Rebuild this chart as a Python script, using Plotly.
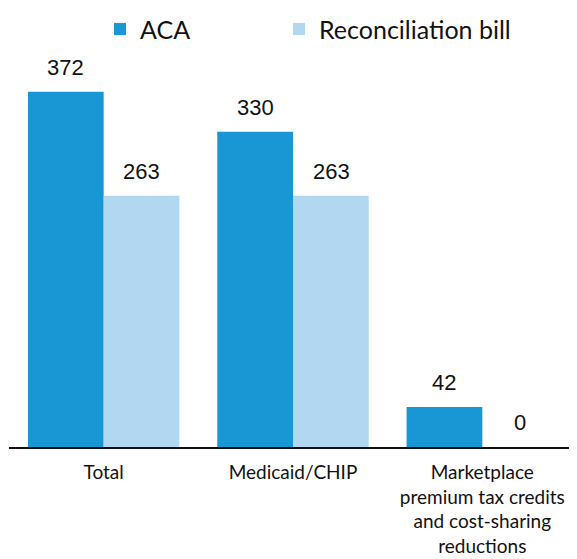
import plotly.graph_objects as go

categories = ["Total", "Medicaid/CHIP", "Marketplace<br>premium tax credits<br>and cost-sharing<br>reductions"]
aca_values = [372, 330, 42]
recon_values = [263, 263, 0]

fig = go.Figure()
fig.add_trace(go.Bar(
    name="ACA", x=categories, y=aca_values, legend="legend",
    marker=dict(color="#1996d4", line=dict(width=0)),
))
fig.add_trace(go.Bar(
    name="Reconciliation bill", x=categories, y=recon_values, legend="legend2",
    marker=dict(color="#b1d7f1", line=dict(width=0)),
))
for vals, shift in ((aca_values, -38), (recon_values, 38)):
    for c, v in zip(categories, vals):
        fig.add_annotation(x=c, y=v, text=str(v), showarrow=False, xshift=shift,
                           yanchor="bottom", yshift=10,
                           font=dict(family="Liberation Sans, Arial", size=22, color="#111"))

legend_common = dict(orientation="h", xanchor="left", y=1.154, yanchor="top",
                     yref="paper",
                     font=dict(size=25, family="Lato", color="#111"))
fig.update_layout(
    width=577, height=559,
    margin=dict(l=1, r=8, t=57, b=120, autoexpand=False),
    barmode="group", bargap=0.2, bargroupgap=0,
    plot_bgcolor="white", paper_bgcolor="white",
    font=dict(family="Lato", color="#111"),
    legend=dict(x=(92 - 1) / 568, **legend_common),
    legend2=dict(x=(271 - 1) / 568, **legend_common),
    showlegend=True,
    xaxis=dict(showline=True, linecolor="#111", linewidth=2, ticks="", automargin=False,
               ticklabelstandoff=7,
               tickfont=dict(size=19, family="Lato", color="#111")),
    yaxis=dict(range=[0, 400], visible=False, showgrid=False, automargin=False),
)
fig.write_html("out.html")
